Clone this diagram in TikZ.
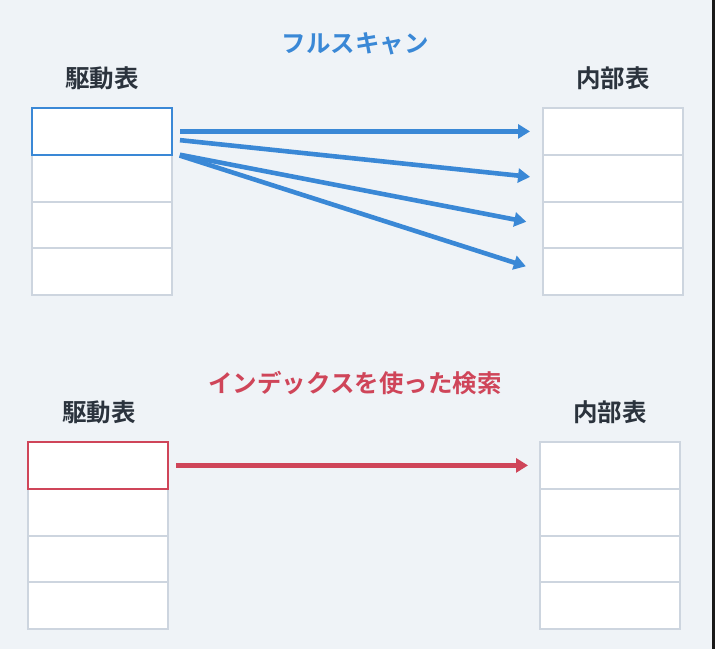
\documentclass[tikz,border=0pt]{standalone}
\usepackage{fontspec}
\newfontfamily\jpfont{Noto Sans CJK JP}[BoldFont={* Bold}]
\usetikzlibrary{arrows.meta,positioning}
\definecolor{bgc}{HTML}{EFF3F7}
\definecolor{cellline}{HTML}{CDD5DF}
\definecolor{labc}{HTML}{2B333D}
\definecolor{blueA}{HTML}{3A88D6}
\definecolor{redA}{HTML}{CF4559}
\begin{document}
\begin{tikzpicture}[x=1pt,y=-1pt,
  cell/.style={draw=cellline,line width=2pt,fill=white,minimum width=140pt,minimum height=46.8pt,inner sep=0pt,outer sep=0pt},
  hiblue/.style={draw=blueA,line width=2pt,minimum width=140pt,minimum height=46.8pt,inner sep=0pt},
  hired/.style={draw=redA,line width=2pt,minimum width=140pt,minimum height=46.8pt,inner sep=0pt},
  lab/.style={text=labc,font=\jpfont\bfseries\fontsize{24.5}{28}\selectfont,inner sep=0pt},
  ttl/.style={font=\jpfont\bfseries\fontsize{24.5}{28}\selectfont,inner sep=0pt},
  arrb/.style={draw=blueA,line width=4.6pt,-{Triangle[length=12pt,width=14pt]}},
  arrr/.style={draw=redA,line width=4.6pt,-{Triangle[length=12pt,width=14pt]}}
]
\useasboundingbox (0,0) rectangle (715,649);
\fill[bgc] (0,0) rectangle (712,649);
\fill[black!90] (712,0) rectangle (715,649);

% top section
\node[ttl,text=blueA] (t1) at (355,44) {フルスキャン};
\node[lab] (dl1) at (102,78) {駆動表};
\node[lab] (il1) at (613,78) {内部表};

\node[cell] (A1) at (102,131.4) {};
\node[cell] (A2) at (102,178.2) {};
\node[cell] (A3) at (102,225) {};
\node[cell] (A4) at (102,271.8) {};
\node[hiblue] (A1h) at (102,131.4) {};

\node[cell] (B1) at (613,131.4) {};
\node[cell] (B2) at (613,178.2) {};
\node[cell] (B3) at (613,225) {};
\node[cell] (B4) at (613,271.8) {};

\draw[arrb,shorten <=7pt,shorten >=13pt] (A1h.east) -- (B1.west);
\draw[arrb,shorten <=7pt,shorten >=13pt] ([yshift=-8pt]A1h.east) -- (B2.west);
\draw[arrb,shorten <=7pt,shorten >=17pt] ([yshift=-22pt]A1h.east) -- (B3.west);
\draw[arrb,shorten <=7pt,shorten >=18pt] ([yshift=-22pt]A1h.east) -- (B4.west);

% bottom section
\node[ttl,text=redA] (t2) at (355,383) {インデックスを使った検索};
\node[lab] (dl2) at (99,412) {駆動表};
\node[lab] (il2) at (610,412) {内部表};

\node[cell] (C1) at (98,465.4) {};
\node[cell] (C2) at (98,512.2) {};
\node[cell] (C3) at (98,559) {};
\node[cell] (C4) at (98,605.8) {};
\node[hired] (C1h) at (98,465.4) {};

\node[cell] (D1) at (610,465.4) {};
\node[cell] (D2) at (610,512.2) {};
\node[cell] (D3) at (610,559) {};
\node[cell] (D4) at (610,605.8) {};

\draw[arrr,shorten <=7pt,shorten >=12pt] (C1h.east) -- (D1.west);
\end{tikzpicture}
\end{document}
